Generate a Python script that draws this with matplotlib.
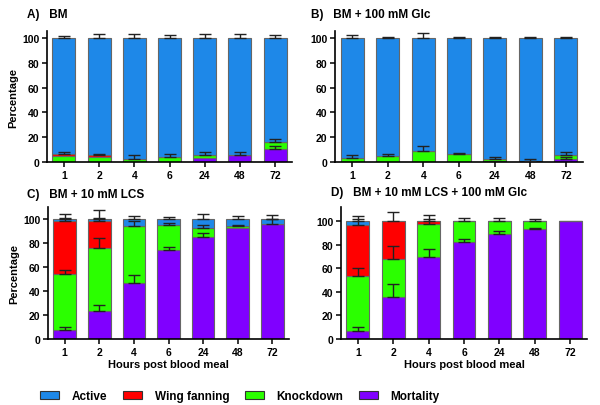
import matplotlib
matplotlib.use("Agg")
import matplotlib.pyplot as plt
import numpy as np
from matplotlib.patches import Patch

plt.rcParams["font.family"] = ["Liberation Sans", "DejaVu Sans"]
plt.rcParams["font.weight"] = "bold"
plt.rcParams["axes.labelweight"] = "bold"

hours = ["1", "2", "4", "6", "24", "48", "72"]
states = ["Active", "Wing fanning", "Knockdown", "Mortality"]
colors = {"Active": "#1E88E8", "Wing fanning": "#FF0000",
          "Knockdown": "#2BFF00", "Mortality": "#8000FF"}

# A) BM
a_mort = [0, 0, 0, 0, 3.0, 5.7, 10.8]
a_knock = [5.1, 3.8, 2.4, 4.1, 2.7, 0, 5.4]
a_wing = [1.7, 1.6, 0, 0, 0, 0, 0]
a_mort_err = [0, 0, 0, 0, 0, 2.7, 1.9]
a_knock_err = [0, 0, 3.3, 2.4, 2.7, 0, 2.7]
a_wing_err = [1.3, 1.1, 0, 0, 0, 0, 0]
a_active_err = [1.9, 3.0, 3.0, 2.7, 3.0, 3.0, 2.4]

# B) BM + 100 mM Glc
b_mort = [0, 0, 0, 0, 1.0, 1.0, 2.4]
b_knock = [3.5, 5.1, 9.2, 6.5, 1.2, 0, 3.5]
b_wing = [0, 0, 0, 0, 0, 0, 0]
b_mort_err = [0, 0, 0, 0, 0, 1.7, 1.4]
b_knock_err = [2.4, 1.6, 3.5, 1.0, 1.6, 0, 2.2]
b_wing_err = [0, 0, 0, 0, 0, 0, 0]
b_active_err = [2.7, 1.3, 3.8, 1.3, 1.3, 1.3, 1.3]

# C) BM + 10 mM LCS
c_mort = [7.8, 23.6, 46.4, 74.2, 84.7, 92.5, 95.8]
c_knock = [46.4, 52.0, 47.8, 21.1, 7.8, 1.4, 0]
c_wing = [44.4, 23.0, 0, 0, 0, 0, 0]
c_mort_err = [1.9, 4.4, 6.6, 2.8, 3.6, 0, 3.9]
c_knock_err = [3.6, 8.3, 4.4, 1.4, 2.8, 1.4, 0]
c_wing_err = [1.9, 1.9, 0, 0, 0, 0, 0]
c_active_err = [4.0, 7.5, 2.8, 1.9, 4.4, 2.8, 3.6]

# D) BM + 10 mM LCS + 100 mM Glc
d_mort = [6.5, 35.4, 69.4, 82.2, 89.2, 93.5, 100]
d_knock = [47.3, 32.3, 28.6, 17.8, 10.8, 6.5, 0]
d_wing = [43.1, 32.3, 2.0, 0, 0, 0, 0]
d_mort_err = [3.4, 11.1, 7.1, 2.8, 2.3, 0.8, 0]
d_knock_err = [6.8, 11.6, 3.4, 2.5, 2.5, 1.4, 0]
d_wing_err = [5.1, 7.6, 4.8, 0, 0, 0, 0]
d_active_err = [4.0, 0, 0, 0, 0, 0, 0]


def draw(ax, mort, knock, wing, errs, ymax):
    x = np.arange(len(hours))
    mort, knock, wing = (np.array(v, float) for v in (mort, knock, wing))
    active = 100 - mort - knock - wing
    segs = [("Mortality", mort), ("Knockdown", knock),
            ("Wing fanning", wing), ("Active", active)]
    bottom = np.zeros(len(x))
    tops = []
    for name, vals in segs:
        ax.bar(x, vals, 0.65, bottom=bottom, color=colors[name],
               edgecolor="#666666", linewidth=0.8, zorder=2)
        bottom = bottom + vals
        tops.append(bottom.copy())
    # upward-only error bars on every segment top
    for top, err in zip(tops, errs):
        err = np.array(err, float)
        m = err > 0
        ax.errorbar(x[m], top[m], yerr=[np.zeros(m.sum()), err[m]], fmt="none",
                    ecolor="#222222", elinewidth=1.0, capsize=4.5, capthick=1.0,
                    zorder=3)
    ax.set_xlim(-0.48, 6.48)
    ax.set_ylim(0, ymax)
    ax.set_xticks(x)
    ax.set_xticklabels(hours)
    ax.set_yticks(range(0, 101, 20))
    for s in ("top", "right"):
        ax.spines[s].set_visible(False)
    for s in ("left", "bottom"):
        ax.spines[s].set_linewidth(1.2)
    ax.tick_params(labelsize=7.5, width=1.1, length=3.5, pad=2)


fig = plt.figure(figsize=(6.0, 4.06), dpi=100)
W, H = 600, 406


def axes_px(left, right, top, bottom):
    return fig.add_axes([left / W, 1 - bottom / H, (right - left) / W, (bottom - top) / H])


axA = axes_px(47, 292, 32, 163)
axB = axes_px(335, 583, 32, 163)
axC = axes_px(48, 289, 208, 340)
axD = axes_px(341, 587, 208, 340)

draw(axA, a_mort, a_knock, a_wing, [a_mort_err, a_knock_err, a_wing_err, a_active_err], 105.8)
draw(axB, b_mort, b_knock, b_wing, [b_mort_err, b_knock_err, b_wing_err, b_active_err], 105.8)
draw(axC, c_mort, c_knock, c_wing, [c_mort_err, c_knock_err, c_wing_err, c_active_err], 110)
draw(axD, d_mort, d_knock, d_wing, [d_mort_err, d_knock_err, d_wing_err, d_active_err], 112)

axA.set_ylabel("Percentage", fontsize=8, labelpad=3)
axC.set_ylabel("Percentage", fontsize=8, labelpad=3)
axC.set_xlabel("Hours post blood meal", fontsize=8, labelpad=2)
axD.set_xlabel("Hours post blood meal", fontsize=8, labelpad=2)

fig.text(27 / W, 1 - 15 / H, "A)   BM", fontsize=8.5, weight="bold", va="center")
fig.text(311 / W, 1 - 15 / H, "B)   BM + 100 mM Glc", fontsize=8.5, weight="bold", va="center")
fig.text(27 / W, 1 - 195 / H, "C)   BM + 10 mM LCS", fontsize=8.5, weight="bold", va="center")
fig.text(331 / W, 1 - 193 / H, "D)   BM + 10 mM LCS + 100 mM Glc", fontsize=8.5,
         weight="bold", va="center")

handles = [Patch(facecolor=colors[s], edgecolor="#333333", linewidth=0.8) for s in states]
fig.legend(handles, states, loc="center", bbox_to_anchor=(240 / W, 1 - 397 / H),
           ncol=4, frameon=False, prop={"size": 8.5, "weight": "bold"},
           handlelength=1.6, handleheight=0.7, columnspacing=1.3, handletextpad=1.1)

fig.savefig("out.png", dpi=100)
